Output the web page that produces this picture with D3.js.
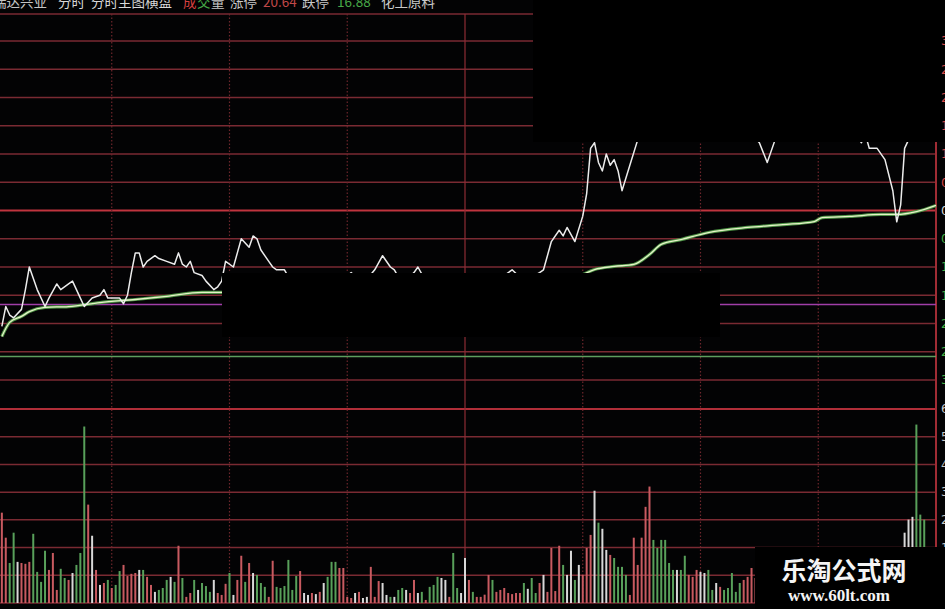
<!DOCTYPE html>
<html><head><meta charset="utf-8">
<script src="https://cdn.jsdelivr.net/npm/d3@7"></script>
<style>html,body{margin:0;padding:0;background:#000;overflow:hidden}</style>
</head><body><svg id="c" width="945" height="609"></svg>
<script>
// ---------- data ----------
const stockName = "瑞达兴业";
const prevClose = 18.76;
const limitUp = "20.64", limitDown = "16.88";
const industry = "化工原料";
const priceStep = 0.10;          // price per grid row
const timeTicks = [30, 60, 90, 120, 150, 180, 210, 240];

const priceMinutes = [2,3,4,5,7,8,9,10,11,13,14,16,17,19,20,21,22,23,25,27,28,29,30,32,33,34,35,36,37,38,39,41,42,44,46,47,48,49,50,51,53,54,56,57,58,59,61,62,63,65,66,67,68,70,71,72,74,76,79,83,87,91,94,97,99,101,102,104,107,108,110,114,118,120,124,128,132,135,139,140,141,142,144,145,146,148,150,151,152,153,154,155,156,157,158,159,160,162,164,166,169,172,175,178,181,184,187,190,193,195,197,199,201,203,205,208,211,214,217,219,221,222,223,225,227,229,230,231,232,233,235,237,240];
const priceValues = [18.35,18.42,18.39,18.38,18.41,18.48,18.56,18.52,18.48,18.42,18.45,18.50,18.48,18.50,18.51,18.48,18.45,18.42,18.45,18.46,18.48,18.45,18.45,18.45,18.43,18.46,18.54,18.61,18.61,18.56,18.58,18.60,18.59,18.58,18.57,18.61,18.57,18.56,18.58,18.54,18.53,18.51,18.48,18.49,18.51,18.58,18.56,18.61,18.66,18.63,18.67,18.66,18.62,18.58,18.56,18.55,18.55,18.50,18.47,18.46,18.49,18.54,18.50,18.55,18.60,18.56,18.55,18.50,18.54,18.56,18.51,18.47,18.46,18.47,18.49,18.51,18.55,18.51,18.54,18.55,18.60,18.65,18.69,18.67,18.70,18.65,18.74,18.82,18.98,19.00,18.93,18.90,18.96,18.92,18.94,18.90,18.83,18.92,19.01,19.06,19.10,19.08,19.13,19.09,19.12,19.14,19.10,19.07,19.03,19.00,18.93,19.01,19.05,19.02,19.06,19.10,19.08,19.12,19.07,19.04,19.00,19.03,18.98,18.98,18.94,18.83,18.72,18.78,18.98,19.01,19.06,19.09,19.08];

const avgMinutes = [2,4,7,9,13,19,27,36,44,53,58,80,110,140,148,153,158,163,167,170,175,182,192,201,209,211,218,226,230,235,240];
const avgValues = [18.314,18.364,18.385,18.402,18.417,18.420,18.434,18.445,18.456,18.470,18.470,18.480,18.490,18.492,18.520,18.551,18.562,18.569,18.604,18.640,18.657,18.682,18.700,18.710,18.721,18.735,18.739,18.746,18.746,18.756,18.778];

const purpleLevel = 18.427;
const greenLevel = 18.243;

const volumeMax = 6980;
const volumes = [
 1200,3250,2350,1440,2530,1480,1440,1410,1480,2490,
 1120,760,1880,1190,1800,470,1230,900,830,1080,
 1370,1800,6350,3540,2420,1190,650,720,830,540,
 650,1150,1370,970,1050,1080,1190,1190,940,650,
 400,470,540,830,940,760,2060,900,220,360,
 830,470,720,610,400,830,360,290,690,1080,
 290,830,1700,760,1440,1080,1010,720,580,220,
 1520,580,540,610,1550,470,970,1150,360,290,
 360,320,400,720,940,1480,1480,1260,1260,220,
 180,360,400,180,220,1300,220,790,720,290,
 220,220,470,540,470,360,830,360,400,110,
 580,650,940,900,830,220,1800,540,360,1620,
 830,400,220,220,300,1010,830,400,470,540,
 360,320,360,360,720,510,900,360,720,1010,
 400,1980,430,2060,1370,1010,1880,830,1370,1010,
 1980,2450,4040,2890,2670,1910,1730,1620,1300,1300,
 1010,290,2350,1370,2350,3460,4190,2270,1980,2270,
 2270,1440,1190,1190,1190,1700,1010,940,1190,1120,
 1080,1190,470,720,580,470,540,1080,400,720,
 830,940,1260,
 900,1200,700,1500,800,600,1100,900,1300,700,
 500,800,1000,600,1200,900,700,500,800,1100,
 600,900,1300,700,800,500,600,1000,900,700,
 1200,800,600,900,1100,1400,800,1000,
 2530,3000,3100,6420,3180,3000,1500,1800,1200];
const volumeDirs = ("rrrggwrrrg"+"gggrrrggrw"+"gggrwrwrgr"+"ggrrrrwgrr"+"wgggwgrgrr"+
  "gwgggwrrrg"+"wrrgrwgggr"+"rggggggrww"+"rwrwgggrrr"+"rwrwwrrrww"+
  "gwggwrrwgr"+"gggwwrggww"+"rgrrrrgrrr"+"rrrrgwggrw"+"rrrrgwwgwr"+
  "rrwgwwrggg"+"grrrrrrggg"+"gggwggrrrw"+"wggwrggggg"+"rrr"+
  "rgrwgrgrggrrwgrgrggrwrgrrgggrwrgrrggrw"+"wwwggg"+"ggr").split("");

// ---------- drawing ----------
const W = 945, H = 609;
const svg = d3.select("#c");
svg.append("rect").attr("width", W).attr("height", H).attr("fill", "#030304");

const x = d3.scaleLinear().domain([0, 240]).range([-6, 936]);
const y = d3.scaleLinear().domain([prevClose - 6*priceStep, prevClose + 6*priceStep]).range([380, 41]);
const yv = d3.scaleLinear().domain([0, volumeMax]).range([603, 409]);

const priceRows = d3.range(-6, 7);
const volRows = d3.range(0, 8);
const frameTop = 14;

// frame top line
svg.append("line").attr("x1", 0).attr("x2", x(240)).attr("y1", frameTop).attr("y2", frameTop)
  .attr("stroke", "#7a2a32").attr("stroke-width", 1.5);

// price grid
svg.selectAll(".pg").data(priceRows).join("line")
  .attr("x1", 0).attr("x2", x(240))
  .attr("y1", k => y(prevClose + k*priceStep)).attr("y2", k => y(prevClose + k*priceStep))
  .attr("stroke", k => k === 0 ? "#c0343e" : "#7a2a32")
  .attr("stroke-width", k => k === 0 ? 2.2 : 1.5);

// volume grid
svg.selectAll(".vg").data(volRows).join("line")
  .attr("x1", 0).attr("x2", x(240))
  .attr("y1", k => yv(k*volumeMax/7)).attr("y2", k => yv(k*volumeMax/7))
  .attr("stroke", k => k === 7 ? "#b02e38" : "#7a2a32")
  .attr("stroke-width", k => k === 7 ? 2.2 : 1.5);

// vertical time lines
svg.selectAll(".vt").data(timeTicks).join("line")
  .attr("x1", d => x(d)).attr("x2", d => x(d))
  .attr("y1", frameTop).attr("y2", d => d === 240 ? H : yv(0))
  .attr("stroke", d => d === 120 ? "#8e2c34" : d === 240 ? "#a02c34" : "#6e262c")
  .attr("stroke-width", d => d === 240 ? 2 : 1.2)
  .attr("stroke-dasharray", d => (d === 120 || d === 240) ? null : "1.5,2");

// indicator levels
svg.append("line").attr("x1", 0).attr("x2", x(240)).attr("y1", y(purpleLevel)).attr("y2", y(purpleLevel))
  .attr("stroke", "#a03ea8").attr("stroke-width", 1.6);
svg.append("line").attr("x1", 0).attr("x2", x(240)).attr("y1", y(greenLevel)).attr("y2", y(greenLevel))
  .attr("stroke", "#5e9e5e").attr("stroke-width", 1.6);

// volume bars
const barColor = {r: "#c85a60", g: "#58a05a", w: "#d8d8d8"};
svg.selectAll(".vb").data(volumes.map((v, i) => ({m: i + 1, v, d: volumeDirs[i]}))).join("rect")
  .attr("x", d => x(d.m) - 1).attr("width", 2)
  .attr("y", d => yv(d.v)).attr("height", d => yv(0) - yv(d.v))
  .attr("fill", d => barColor[d.d]);

// average line (green body with pale core)
const avgData = avgMinutes.map((m, i) => ({m, p: avgValues[i]}));
const avgLine = d3.line().x(d => x(d.m)).y(d => y(d.p)).curve(d3.curveMonotoneX);
svg.append("path").attr("d", avgLine(avgData)).attr("fill", "none")
  .attr("stroke", "#4e9446").attr("stroke-width", 3.2);
svg.append("path").attr("d", avgLine(avgData)).attr("fill", "none")
  .attr("stroke", "#e6f2c8").attr("stroke-width", 1.3);

// price line
const priceData = priceMinutes.map((m, i) => ({m, p: priceValues[i]}));
svg.append("path").attr("d", d3.line().x(d => x(d.m)).y(d => y(d.p))(priceData))
  .attr("fill", "none").attr("stroke", "#ececec").attr("stroke-width", 1.5)
  .attr("stroke-linejoin", "round");

// redaction boxes present in the source picture
svg.append("rect").attr("x", 533).attr("y", 0).attr("width", W - 533).attr("height", 142).attr("fill", "#000");
svg.append("rect").attr("x", 222).attr("y", 273).attr("width", 720 - 222).attr("height", 337 - 273).attr("fill", "#000");

// right axis labels (mostly cut off at the picture edge, as in the source)
svg.selectAll(".pl").data(priceRows).join("text")
  .attr("x", 941).attr("y", k => y(prevClose + k*priceStep)).attr("dy", "0.36em")
  .attr("font-family", "DejaVu Sans, sans-serif").attr("font-size", 12)
  .attr("fill", k => k > 0 ? "#d84848" : k < 0 ? "#44b044" : "#d8d8d8")
  .text(k => (Math.abs(k*priceStep/prevClose*100)).toFixed(2) + "%");
svg.selectAll(".vl").data(volRows.filter(k => k > 0)).join("text")
  .attr("x", 941).attr("y", k => yv(k*volumeMax/7)).attr("dy", "0.36em")
  .attr("font-family", "DejaVu Sans, sans-serif").attr("font-size", 12)
  .attr("fill", "#c8c8c8")
  .text(k => Math.round(k*volumeMax/7));

// title row
const titleParts = [
  {t: stockName, x: -7, c: "#c4c4c4"},
  {t: "分时", x: 58, c: "#d8d8d8"},
  {t: "分时主图横盘", x: 91, c: "#d8d8d8"},
  {t: "成", x: 183, c: "#d84040"},
  {t: "交", x: 197, c: "#44a844"},
  {t: "量", x: 211, c: "#c8c8c8"},
  {t: "涨停", x: 230, c: "#c8c8c8"},
  {t: limitUp, x: 263, c: "#c04848"},
  {t: "跌停", x: 302, c: "#c8c8c8"},
  {t: limitDown, x: 337, c: "#48a848"},
  {t: industry, x: 381, c: "#c8c8c8"}
];
svg.selectAll(".tt").data(titleParts).join("text")
  .attr("x", d => d.x).attr("y", 7)
  .attr("font-family", "'Noto Sans CJK SC', sans-serif").attr("font-size", 13.5)
  .attr("fill", d => d.c).text(d => d.t);

// watermark
svg.append("rect").attr("x", 755).attr("y", 547).attr("width", W - 755).attr("height", H - 547).attr("fill", "#000");
svg.append("text").attr("x", 844).attr("y", 580).attr("text-anchor", "middle")
  .attr("font-family", "'Noto Sans CJK SC', sans-serif").attr("font-weight", "bold")
  .attr("font-size", 25).attr("fill", "#f4f4f4").text("乐淘公式网");
svg.append("text").attr("x", 839).attr("y", 601).attr("text-anchor", "middle")
  .attr("font-family", "'Liberation Serif', serif").attr("font-weight", "bold")
  .attr("font-size", 17).attr("fill", "#f4f4f4").text("www.60lt.com");
</script></body></html>
